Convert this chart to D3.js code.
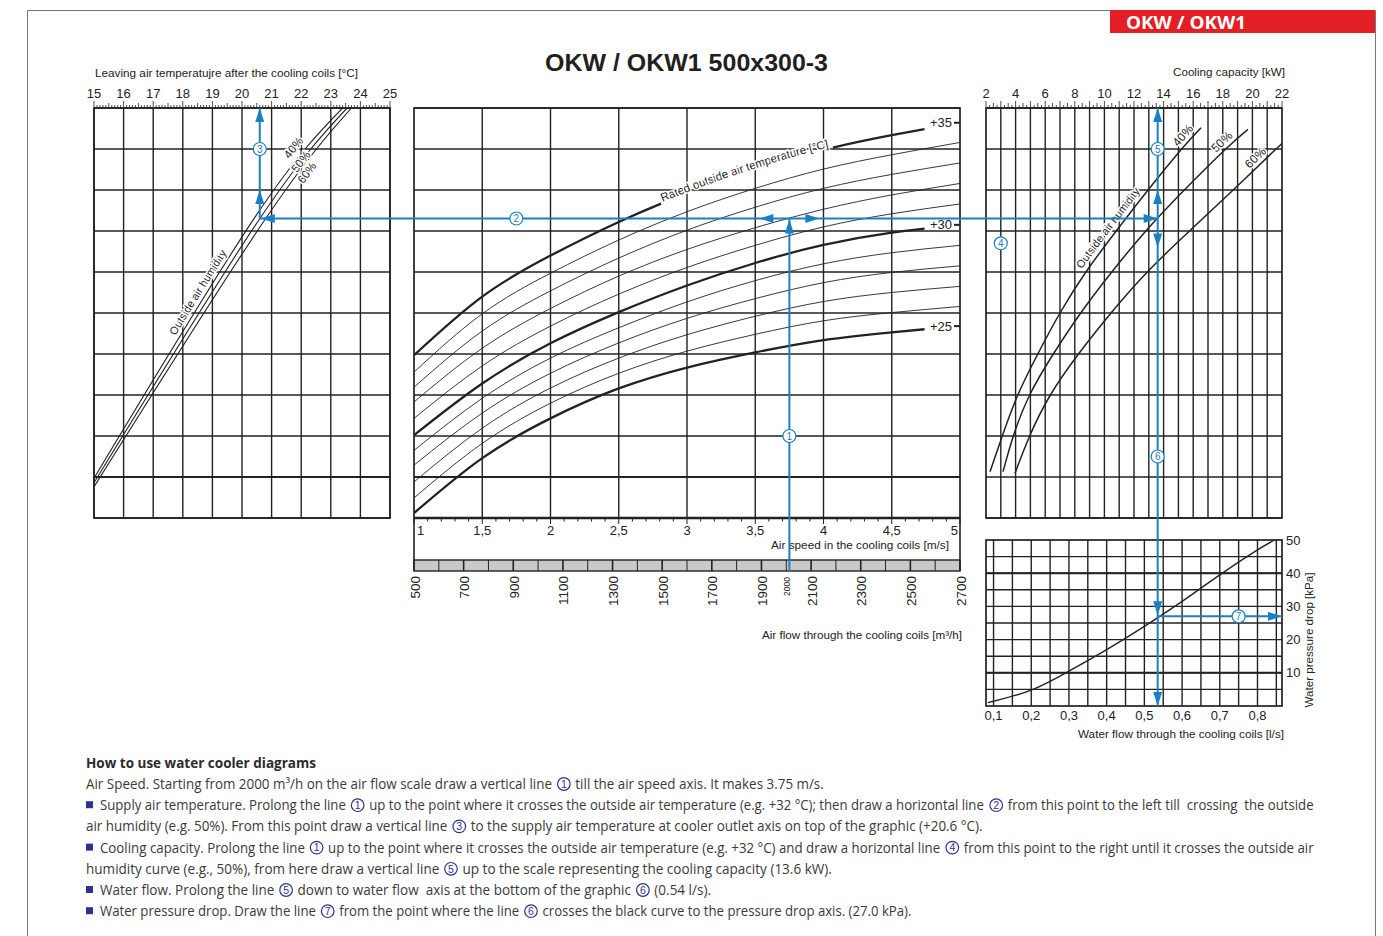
<!DOCTYPE html>
<html>
<head>
<meta charset="utf-8">
<script src="https://cdn.jsdelivr.net/npm/d3@7"></script>
<style>
  body { margin: 0; background: #fff; }
  text { font-family: "Liberation Sans", Arial, sans-serif; fill: #222; }
</style>
</head>
<body>
<script>
// ---------------- data ----------------
// the three upper diagrams share one (unprinted) ordinate: 10 grid rows
const rowTicks = d3.range(0, 11);

// left: leaving air temperature, outside humidity lines
const leaveTicks = d3.range(15, 26);
const leftHumidity = ['40%', '50%', '60%'];
const leftHumTemps = [[15, 20.45, 23.4], [15, 20.6, 23.55], [15, 20.75, 23.7]];
const leftHumRows = [[0.97, 7.35, 10], [0.86, 7.3, 10], [0.76, 7.25, 10]];

// middle: rated outside air temperature curves vs air speed
const airSpeed = [1, 1.5, 2, 2.5, 3, 3.5, 4, 4.5, 5];
const outsideTemps = [35, 34, 33, 32, 31, 30, 29, 28, 27, 26, 25];
const tempRows = [
  [3.97, 5.40, 6.40, 7.22, 7.92, 8.50, 8.98, 9.34, 9.64],
  [3.56, 4.98, 5.97, 6.78, 7.47, 8.04, 8.51, 8.86, 9.16],
  [3.19, 4.56, 5.54, 6.34, 7.02, 7.58, 8.04, 8.38, 8.66],
  [2.83, 4.14, 5.11, 5.90, 6.55, 7.08, 7.53, 7.88, 8.16],
  [2.43, 3.71, 4.68, 5.46, 6.11, 6.65, 7.10, 7.42, 7.66],
  [2.02, 3.28, 4.26, 5.02, 5.67, 6.22, 6.66, 6.96, 7.15],
  [1.65, 2.92, 3.90, 4.64, 5.27, 5.79, 6.20, 6.47, 6.65],
  [1.29, 2.56, 3.53, 4.27, 4.87, 5.35, 5.74, 5.99, 6.15],
  [0.88, 2.19, 3.17, 3.90, 4.47, 4.92, 5.28, 5.50, 5.65],
  [0.49, 1.82, 2.80, 3.53, 4.07, 4.48, 4.81, 5.01, 5.16],
  [0.12, 1.46, 2.43, 3.16, 3.67, 4.04, 4.34, 4.53, 4.68]
];
const labelledTemps = [35, 30, 25];
const speedTicks = [1, 1.5, 2, 2.5, 3, 3.5, 4, 4.5, 5];
const airFlowLabels = [500, 700, 900, 1100, 1300, 1500, 1700, 1900, 2100, 2300, 2500, 2700];
const airFlowMark = 2000;

// right: cooling capacity, outside humidity curves
const capTicks = [2, 4, 6, 8, 10, 12, 14, 16, 18, 20, 22];
const capHumidity = ['40%', '50%', '60%'];
const capKW = [
  [2.27, 3.1, 4.15, 5.5, 7.0, 8.75, 10.8, 12.95, 15.22, 16.53],
  [3.15, 3.85, 4.95, 6.55, 8.4, 10.5, 12.8, 15.4, 18.2, 19.7],
  [3.96, 4.95, 6.35, 8.25, 10.45, 12.9, 15.75, 18.7, 21.6, 21.98]
];
const capRows = [
  [1.13, 2, 3, 4, 5, 6, 7, 8, 9, 9.52],
  [1.13, 2, 3, 4, 5, 6, 7, 8, 9, 9.48],
  [1.09, 2, 3, 4, 5, 6, 7, 8, 9, 9.12]
];

// bottom right: water pressure drop vs water flow
const waterFlow = [0.085, 0.2, 0.3, 0.4, 0.5, 0.6, 0.7, 0.8, 0.845];
const pressureDrop = [1.0, 4.8, 10.5, 17.0, 24.0, 31.5, 39.5, 47.0, 50];
const flowTicks = [0.1, 0.2, 0.3, 0.4, 0.5, 0.6, 0.7, 0.8];
const dropTicks = [10, 20, 30, 40, 50];

// worked example
const exSpeed = 3.75, exTemp = 32, exLeaving = 20.6, exCapacity = 13.6, exDrop = 27.0;

const howTo = [
  'Air Speed. Starting from 2000 m³/h on the air flow scale draw a vertical line ① till the air speed axis. It makes 3.75 m/s.',
  '■ Supply air temperature. Prolong the line ① up to the point where it crosses the outside air temperature (e.g. +32 °C); then draw a horizontal line ② from this point to the left till  crossing  the outside',
  'air humidity (e.g. 50%). From this point draw a vertical line ③ to the supply air temperature at cooler outlet axis on top of the graphic (+20.6 °C).',
  '■ Cooling capacity. Prolong the line ① up to the point where it crosses the outside air temperature (e.g. +32 °C) and draw a horizontal line ④ from this point to the right until it crosses the outside air',
  'humidity curve (e.g., 50%), from here draw a vertical line ⑤ up to the scale representing the cooling capacity (13.6 kW).',
  '■ Water flow. Prolong the line ⑤ down to water flow  axis at the bottom of the graphic ⑥ (0.54 l/s).',
  '■ Water pressure drop. Draw the line ⑦ from the point where the line ⑥ crosses the black curve to the pressure drop axis. (27.0 kPa).'
];
const howToEnds = [824, 1314, 983, 1314, 832, 711, 912];

// ---------------- page ----------------
const ink = '#222';
const blue = '#1b7fc4';
const navy = '#2e3192';

const svg = d3.select('body').append('svg')
  .attr('width', 1383)
  .attr('height', 936);

svg.append('path')
  .attr('d', 'M27.5,936V10.5H1375.5V936')
  .attr('fill', 'none').attr('stroke', '#777').attr('stroke-width', 1);

svg.append('rect').attr('x', 1110).attr('y', 10).attr('width', 265).attr('height', 23).attr('fill', '#e31e24');
svg.append('text').attr('x', 1126).attr('y', 29)
  .attr('textLength', 120).attr('lengthAdjust', 'spacingAndGlyphs')
  .style('font-family', '"Open Sans", sans-serif').style('font-weight', 700).style('font-size', '17px')
  .style('fill', '#fff').text('OKW / OKW1');

svg.append('text').attr('x', 545).attr('y', 71)
  .attr('textLength', 283).attr('lengthAdjust', 'spacingAndGlyphs')
  .style('font-weight', 700).style('font-size', '24px').style('fill', '#231f20')
  .text('OKW / OKW1 500x300-3');

// scales
const yRow = d3.scaleLinear().domain([0, 10]).range([518, 108]);
const xLeave = d3.scaleLinear().domain([15, 25]).range([94, 390]);
const xSpeed = d3.scaleLinear().domain([1, 5]).range([414, 960]);
const xAirFlow = d3.scaleLinear().domain([500, 2700]).range([414, 960]);
const xCap = d3.scaleLinear().domain([2, 22]).range([986, 1282]);
const xWater = d3.scaleLinear().domain([0.08, 0.865]).range([986, 1282]);
const yDrop = d3.scaleLinear().domain([0, 50]).range([706, 540]);

// helpers
function vLines(g, vals, x, y0, y1, w) {
  g.append('g').selectAll('line').data(vals).join('line')
    .attr('x1', d => x(d)).attr('x2', d => x(d))
    .attr('y1', y0).attr('y2', y1)
    .attr('stroke', ink).attr('stroke-width', w || 1.4);
}
function hLines(g, vals, y, x0, x1, w) {
  g.append('g').selectAll('line').data(vals).join('line')
    .attr('x1', x0).attr('x2', x1)
    .attr('y1', d => y(d)).attr('y2', d => y(d))
    .attr('stroke', ink).attr('stroke-width', w || 1.4);
}
function ruler(g, x, a, b, step, y0) {
  const per = Math.round(1 / step), half = Math.round(0.5 / step);
  const ticks = d3.range(Math.round((b - a) / step) + 1);
  g.append('g').selectAll('line').data(ticks).join('line')
    .attr('x1', i => x(a + i * step)).attr('x2', i => x(a + i * step))
    .attr('y1', y0)
    .attr('y2', i => y0 - (i % per === 0 ? 7 : i % half === 0 ? 5 : 3))
    .attr('stroke', ink).attr('stroke-width', 0.8);
}
function lengthWhere(node, test) {
  let lo = 0, hi = node.getTotalLength();
  for (let k = 0; k < 30; k++) {
    const m = (lo + hi) / 2;
    if (test(node.getPointAtLength(m))) hi = m; else lo = m;
  }
  return hi;
}
function pathLabel(g, id, startLen, dy, txt, size) {
  return g.append('text')
    .attr('dy', dy)
    .style('font-size', size + 'px')
    .style('stroke', '#fff').style('stroke-width', 3).style('paint-order', 'stroke')
    .append('textPath').attr('href', '#' + id).attr('startOffset', startLen)
    .text(txt);
}
function box(g, x0, y0, x1, y1) {
  g.append('rect').attr('x', x0).attr('y', y0).attr('width', x1 - x0).attr('height', y1 - y0)
    .attr('fill', 'none').attr('stroke', ink).attr('stroke-width', 1.7);
}
function caption(g, x, y, anchor, len, s) {
  return g.append('text').attr('x', x).attr('y', y).attr('text-anchor', anchor)
    .attr('textLength', len).attr('lengthAdjust', 'spacingAndGlyphs')
    .style('font-size', '11.5px').text(s);
}
const defs = svg.append('defs');
function clip(id, x0, y0, x1, y1) {
  defs.append('clipPath').attr('id', id).append('rect')
    .attr('x', x0).attr('y', y0).attr('width', x1 - x0).attr('height', y1 - y0);
}

// ---------------- left diagram ----------------
const left = svg.append('g');
vLines(left, leaveTicks, xLeave, yRow(0), yRow(10));
hLines(left, rowTicks, yRow, xLeave(15), xLeave(25));
hLines(left, [1], yRow, xLeave(15), xLeave(25), 2.2);
box(left, xLeave(15), yRow(10), xLeave(25), yRow(0));
ruler(left, xLeave, 15, 25, 0.1, yRow(10));
left.append('g').selectAll('text').data(leaveTicks).join('text')
  .attr('x', d => xLeave(d)).attr('y', 98).attr('text-anchor', 'middle')
  .style('font-size', '13px').text(d => d);
caption(left, 95, 77, 'start', 263, 'Leaving air temperatujre after the cooling coils [°C]');

clip('clipLeft', xLeave(15), yRow(10), xLeave(25), yRow(0));
const leftLine = d3.line().curve(d3.curveNatural);
const leftPaths = left.append('g').attr('clip-path', 'url(#clipLeft)')
  .selectAll('path').data(leftHumidity).join('path')
  .attr('id', (d, i) => 'lh' + i)
  .attr('d', (d, i) => leftLine(leftHumTemps[i].map((t, j) => [xLeave(t), yRow(leftHumRows[i][j])])))
  .attr('fill', 'none').attr('stroke', ink).attr('stroke-width', 1.1);
const leftLabelY = [163, 171, 178];
const leftLabelDy = [-6, 4, 11];
leftPaths.each(function (d, i) {
  const L = lengthWhere(this, p => p.y <= leftLabelY[i]);
  pathLabel(left, 'lh' + i, L, leftLabelDy[i], d, 11.5);
});
pathLabel(left, 'lh0', lengthWhere(leftPaths.nodes()[0], p => p.y <= 338), -4, 'Outside air humidity', 11);

// ---------------- middle diagram ----------------
const mid = svg.append('g');
vLines(mid, speedTicks.slice(1, -1), xSpeed, yRow(0), yRow(10));
hLines(mid, rowTicks, yRow, xSpeed(1), xSpeed(5));
hLines(mid, [1], yRow, xSpeed(1), xSpeed(5), 2.2);
box(mid, xSpeed(1), yRow(10), xSpeed(5), yRow(0));
// speed axis strip
mid.append('line').attr('x1', xSpeed(1)).attr('x2', xSpeed(1)).attr('y1', yRow(0)).attr('y2', 560).attr('stroke', ink).attr('stroke-width', 1.6);
mid.append('line').attr('x1', xSpeed(5)).attr('x2', xSpeed(5)).attr('y1', yRow(0)).attr('y2', 560).attr('stroke', ink).attr('stroke-width', 1.6);
mid.append('line').attr('x1', xSpeed(1)).attr('x2', xSpeed(5)).attr('y1', yRow(0)).attr('y2', yRow(0)).attr('stroke', ink).attr('stroke-width', 2.4);
mid.append('g').selectAll('line').data(d3.range(41)).join('line')
  .attr('x1', i => xSpeed(1 + i / 10)).attr('x2', i => xSpeed(1 + i / 10))
  .attr('y1', yRow(0)).attr('y2', i => yRow(0) + (i % 5 === 0 ? 6 : 3.5))
  .attr('stroke', ink).attr('stroke-width', 1);
mid.append('g').selectAll('text').data(speedTicks).join('text')
  .attr('x', (d, i) => xSpeed(d) + (i === 0 ? 3 : i === speedTicks.length - 1 ? -2 : 0))
  .attr('y', 535)
  .attr('text-anchor', (d, i) => i === 0 ? 'start' : i === speedTicks.length - 1 ? 'end' : 'middle')
  .style('font-size', '13px').text(d => String(d).replace('.', ','));
caption(mid, 949, 549, 'end', 178, 'Air speed in the cooling coils [m/s]');

// air flow bar
mid.append('rect').attr('x', xAirFlow(500)).attr('y', 560).attr('width', xAirFlow(2700) - xAirFlow(500)).attr('height', 11)
  .attr('fill', '#c8c9cb').attr('stroke', ink).attr('stroke-width', 1.4);
mid.append('g').selectAll('line').data(d3.range(500, 2701, 100)).join('line')
  .attr('x1', d => xAirFlow(d)).attr('x2', d => xAirFlow(d)).attr('y1', 560).attr('y2', 571)
  .attr('stroke', ink).attr('stroke-width', d => d % 200 === 100 ? 1.6 : 1);
mid.append('g').selectAll('text').data(airFlowLabels).join('text')
  .attr('transform', d => `translate(${xAirFlow(d) + 1},576) rotate(-90)`)
  .attr('text-anchor', 'end').attr('dominant-baseline', 'central')
  .style('font-size', '13.5px').text(d => d);
mid.append('text')
  .attr('transform', `translate(${xAirFlow(airFlowMark) + 1},577) rotate(-90)`)
  .attr('text-anchor', 'end').attr('dominant-baseline', 'central')
  .style('font-size', '8.5px').text(airFlowMark);
caption(mid, 962, 639, 'end', 200, 'Air flow through the cooling coils [m³/h]');

// temperature curves
clip('clipMid', xSpeed(1), yRow(10), xSpeed(5), yRow(0));
const tempLine = d3.line().curve(d3.curveNatural);
const tempPaths = mid.append('g').attr('clip-path', 'url(#clipMid)')
  .selectAll('path').data(outsideTemps).join('path')
  .attr('id', d => 'tc' + d)
  .attr('d', (d, i) => tempLine(airSpeed.map((s, j) => [xSpeed(s), yRow(tempRows[i][j])])))
  .attr('fill', 'none').attr('stroke', ink)
  .attr('stroke-width', d => labelledTemps.includes(d) ? 2.3 : 0.9);

const endX = xSpeed(4.74);
tempPaths.filter(d => labelledTemps.includes(d)).each(function (d) {
  const total = this.getTotalLength();
  const Lend = lengthWhere(this, p => p.x >= endX);
  d3.select(this).attr('stroke-dasharray', `${Lend},${total}`);
});
labelledTemps.forEach(t => {
  const yy = yRow(tempRows[outsideTemps.indexOf(t)][airSpeed.length - 1]);
  mid.append('text').attr('x', xSpeed(5) - 8).attr('y', yy + 4.5).attr('text-anchor', 'end')
    .style('font-size', '13px').text('+' + t);
  mid.append('line').attr('x1', xSpeed(5) - 6).attr('x2', xSpeed(5)).attr('y1', yy).attr('y2', yy)
    .attr('stroke', ink).attr('stroke-width', 2);
});
// rated temperature caption along +35, the curve broken under it
const p35 = tempPaths.filter(d => d === 35).node();
const capStart = lengthWhere(p35, p => p.x >= 661);
const rated = pathLabel(mid, 'tc35', capStart + 2, -1, 'Rated outside air temperature [°C]', 11.5);
const ratedLen = rated.node().parentNode.getComputedTextLength();
const total35 = p35.getTotalLength();
const end35 = lengthWhere(p35, p => p.x >= endX);
const gapEnd = capStart + ratedLen + 6;
d3.select(p35).attr('stroke-dasharray', `${capStart},${gapEnd - capStart},${end35 - gapEnd},${total35}`);

// ---------------- right diagram ----------------
const right = svg.append('g');
const kwLines = d3.range(3, 22);
vLines(right, kwLines, xCap, yRow(0), yRow(10), 1.4);
hLines(right, rowTicks, yRow, xCap(2), xCap(22));
box(right, xCap(2), yRow(10), xCap(22), yRow(0));
ruler(right, xCap, 2, 22, 0.25, yRow(10));
right.append('g').selectAll('text').data(capTicks).join('text')
  .attr('x', d => xCap(d)).attr('y', 98).attr('text-anchor', 'middle')
  .style('font-size', '13px').text(d => d);
caption(right, 1285, 76, 'end', 112, 'Cooling capacity [kW]');

clip('clipRight', xCap(2), yRow(10), xCap(22), yRow(0));
const capLine = d3.line().curve(d3.curveNatural);
const capPaths = right.append('g').attr('clip-path', 'url(#clipRight)')
  .selectAll('path').data(capHumidity).join('path')
  .attr('id', (d, i) => 'ch' + i)
  .attr('d', (d, i) => capLine(capKW[i].map((k, j) => [xCap(k), yRow(capRows[i][j])])))
  .attr('fill', 'none').attr('stroke', ink).attr('stroke-width', 1.5);
const capLabelY = [150, 156, 172];
capPaths.each(function (d, i) {
  pathLabel(right, 'ch' + i, lengthWhere(this, p => p.y <= capLabelY[i]), -4, d, 12);
});
pathLabel(right, 'ch0', lengthWhere(capPaths.nodes()[0], p => p.y <= 272), -5, 'Outside air humidity', 11);

// ---------------- pressure drop diagram ----------------
const pd = svg.append('g');
vLines(pd, d3.range(0.1, 0.86, 0.05), xWater, yDrop(0), yDrop(50));
hLines(pd, d3.range(5, 50, 5), yDrop, xWater(0.08), xWater(0.865));
hLines(pd, [10, 40], yDrop, xWater(0.08), xWater(0.865), 2);
box(pd, xWater(0.08), yDrop(50), xWater(0.865), yDrop(0));
pd.append('g').selectAll('text').data(flowTicks).join('text')
  .attr('x', d => xWater(d)).attr('y', 720).attr('text-anchor', 'middle')
  .style('font-size', '13px').text(d => String(d).replace('.', ','));
pd.append('g').selectAll('text').data(dropTicks).join('text')
  .attr('x', xWater(0.865) + 4).attr('y', d => yDrop(d) + 4.5)
  .style('font-size', '13px').text(d => d);
caption(pd, 1284, 738, 'end', 206, 'Water flow through the cooling coils [l/s]');
pd.append('text').attr('transform', `translate(1313,640) rotate(-90)`)
  .attr('text-anchor', 'middle').attr('textLength', 135).attr('lengthAdjust', 'spacingAndGlyphs')
  .style('font-size', '11.5px').text('Water pressure drop [kPa]');
pd.append('path')
  .attr('d', d3.line().curve(d3.curveNatural)(waterFlow.map((q, i) => [xWater(q), yDrop(pressureDrop[i])])))
  .attr('fill', 'none').attr('stroke', ink).attr('stroke-width', 1.4);

// ---------------- worked example (blue) ----------------
const ann = svg.append('g');
function interp(xs, ys, x) {
  const i = Math.max(1, d3.bisectLeft(xs, x));
  const t = (x - xs[i - 1]) / (xs[i] - xs[i - 1]);
  return ys[i - 1] + t * (ys[i] - ys[i - 1]);
}
const x1 = xSpeed(exSpeed);
const y2 = yRow(interp(airSpeed, tempRows[outsideTemps.indexOf(exTemp)], exSpeed));
const x3 = xLeave(exLeaving);
const x5 = xCap(exCapacity);
const y7 = yDrop(exDrop);

function seg(xa, ya, xb, yb) {
  ann.append('line').attr('x1', xa).attr('y1', ya).attr('x2', xb).attr('y2', yb)
    .attr('stroke', blue).attr('stroke-width', 2);
}
function arrow(x, y, dir) {
  const L = 14, W = 4.5;
  const pts = {
    up: [[0, 0], [-W, L], [W, L]], down: [[0, 0], [-W, -L], [W, -L]],
    left: [[0, 0], [L, -W], [L, W]], right: [[0, 0], [-L, -W], [-L, W]]
  }[dir];
  ann.append('path').attr('d', 'M' + pts.map(p => (x + p[0]) + ',' + (y + p[1])).join('L') + 'Z').attr('fill', blue);
}
function badge(g, x, y, n, colour, r, size) {
  g.append('circle').attr('cx', x).attr('cy', y).attr('r', r)
    .attr('fill', '#fff').attr('stroke', colour).attr('stroke-width', 1.2);
  g.append('text').attr('x', x).attr('y', y + size * 0.36).attr('text-anchor', 'middle')
    .style('font-size', size + 'px').style('fill', colour).text(n);
}

seg(x1, 571, x1, y2);
seg(x3, y2, x5, y2);
seg(x3, y2, x3, yRow(10));
seg(x5, yRow(10), x5, yDrop(0));
seg(x5, y7, xWater(0.865), y7);

arrow(x1, y2 + 1, 'up');
arrow(x1 - 30, y2, 'left');
arrow(x1 + 30, y2, 'right');
arrow(x3 + 1, y2, 'left');
arrow(x3, yRow(8), 'up');
arrow(x3, yRow(10), 'up');
arrow(x5, y2, 'right');
arrow(x5, yRow(8), 'up');
arrow(x5, yRow(10), 'up');
arrow(x5, yRow(6.6), 'down');
arrow(x5, y7 - 1, 'down');
arrow(x5, yDrop(0), 'down');
arrow(xWater(0.865), y7, 'right');

badge(ann, x1, yRow(2), 1, blue, 6.5, 10);
badge(ann, xSpeed(1.75), y2, 2, blue, 6.5, 10);
badge(ann, x3, yRow(9), 3, blue, 6.5, 10);
badge(ann, xCap(3), yRow(6.7), 4, blue, 6.5, 10);
badge(ann, x5, yRow(9), 5, blue, 6.5, 10);
badge(ann, x5, yRow(1.5), 6, blue, 6.5, 10);
badge(ann, xWater(0.75), y7, 7, blue, 6.5, 10);

// ---------------- how-to text ----------------
const txt = svg.append('g');
const bodyFont = '"Open Sans", sans-serif';
txt.append('text').attr('x', 86).attr('y', 768)
  .attr('textLength', 230).attr('lengthAdjust', 'spacingAndGlyphs')
  .style('font-family', bodyFont).style('font-weight', 700).style('font-size', '14px')
  .style('fill', '#2b2b2b').text('How to use water cooler diagrams');
const circled = '①②③④⑤⑥⑦';
howTo.forEach((line, i) => {
  const y = 789 + i * 21.2;
  const row = txt.append('g');
  // text runs are condensed horizontally so each line ends where the printed one does
  const items = line.split(/([■①②③④⑤⑥⑦])/).filter(s => s !== '').map(s => {
    if (s === '■') return { kind: 'bullet', w: 10 };
    const k = circled.indexOf(s);
    if (k >= 0) return { kind: 'badge', n: k + 1, w: 15 };
    const t = row.append('text').attr('x', 0).attr('y', 0)
      .style('font-family', bodyFont).style('font-size', '14px').style('fill', '#3a3a3a')
      .style('white-space', 'pre').text(s.trim());
    const lead = s.startsWith(' ') ? 4 : 0, trail = s.endsWith(' ') ? 4 : 0;
    return { kind: 'text', node: t, w: t.node().getComputedTextLength(), lead, trail };
  });
  const fixed = d3.sum(items, d => d.kind === 'text' ? d.lead + d.trail : d.w);
  const free = d3.sum(items.filter(d => d.kind === 'text'), d => d.w);
  const k = (howToEnds[i] - 86 - fixed) / free;
  let x = 86;
  items.forEach(d => {
    if (d.kind === 'text') {
      x += d.lead;
      d.node.attr('transform', `translate(${x},${y}) scale(${k},1)`);
      x += d.w * k + d.trail;
    } else if (d.kind === 'bullet') {
      row.append('rect').attr('x', x).attr('y', y - 9).attr('width', 7).attr('height', 7).attr('fill', navy);
      x += d.w;
    } else {
      badge(row, x + 7.5, y - 5, d.n, navy, 6.3, 10.5);
      x += d.w;
    }
  });
});
</script>
</body>
</html>
